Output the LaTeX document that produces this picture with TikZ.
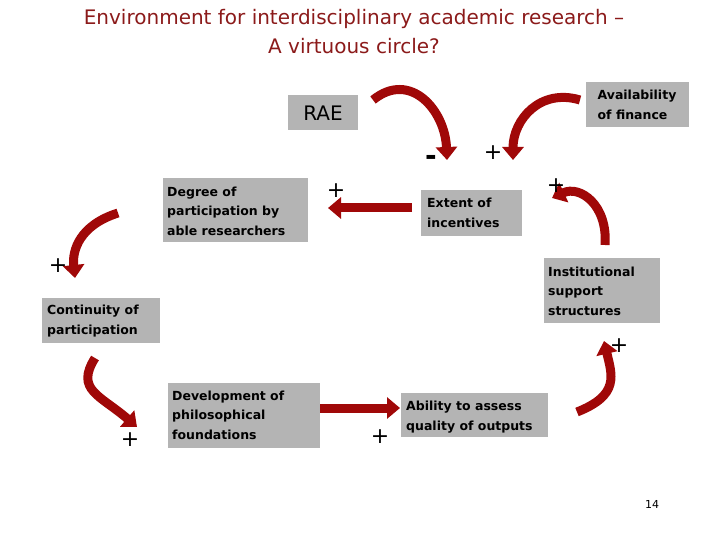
\documentclass[tikz,border=0pt]{standalone}
\usepackage{fontspec}
\setmainfont{DejaVu Sans}
\usetikzlibrary{arrows.meta}
\definecolor{ared}{HTML}{A00808}
\definecolor{tred}{HTML}{8B1A1A}
\definecolor{boxg}{HTML}{B4B4B4}
\tikzset{
  box/.style={inner sep=4pt, align=left, font=\bfseries\fontsize{12.5}{19.5}\selectfont},
  arr/.style={draw=ared, line width=9pt, -{Triangle[width=21pt,length=13pt]}},
  sgn/.style={font=\fontsize{22}{22}\selectfont}
}
\begin{document}
\begin{tikzpicture}[x=1pt,y=-1pt]
\useasboundingbox (0,0) rectangle (720,540);
\node[text=tred, font=\fontsize{20}{29}\selectfont, align=center] (title) at (354,32) {Environment for interdisciplinary academic research –\\A virtuous circle?};
% boxes
\fill[boxg] (288,95) rectangle (358,130);
\node[font=\fontsize{20}{20}\selectfont] (rae) at (323,113) {RAE};
\fill[boxg] (586,82) rectangle (689,127);
\node[box, anchor=center] (fin) at (637,105) {Availability\\of finance};
\fill[boxg] (163,178) rectangle (308,242);
\node[box, anchor=west] (deg) at (163,211) {Degree of\\participation by\\able researchers};
\fill[boxg] (421,190) rectangle (522,236);
\node[box, anchor=west] (ext) at (423,213) {Extent of\\incentives};
\fill[boxg] (544,258) rectangle (660,323);
\node[box, anchor=west] (ins) at (544,291) {Institutional\\support\\structures};
\fill[boxg] (42,298) rectangle (160,343);
\node[box, anchor=west] (con) at (43,321) {Continuity of\\participation};
\fill[boxg] (168,383) rectangle (320,448);
\node[box, anchor=west] (dev) at (168,415) {Development of\\philosophical\\foundations};
\fill[boxg] (401,393) rectangle (548,437);
\node[box, anchor=west] (abi) at (402,417) {Ability to assess\\quality of outputs};
\node[font=\fontsize{11}{11}\selectfont] (pg) at (652,504) {14};
% arrows
\coordinate (a1s) at (373,100); \coordinate (a1e) at (447,160);
\draw[arr] (a1s) .. controls (410,70) and (445,110) .. (a1e);
\coordinate (a2s) at (580,100); \coordinate (a2e) at (513,160);
\draw[arr] (a2s) .. controls (540,88) and (513,120) .. (a2e);
\coordinate (a3s) at (412,208); \coordinate (a3e) at (328,208);
\draw[arr] (a3s) -- (a3e);
\coordinate (a4s) at (605,245); \coordinate (a4e) at (552,198);
\draw[arr] (a4s) .. controls (608,205) and (580,185) .. (a4e);
\coordinate (a5s) at (118,213); \coordinate (a5e) at (75,278);
\draw[arr] (a5s) .. controls (80,225) and (72,250) .. (a5e);
\coordinate (a6s) at (95,358); \coordinate (a6e) at (137,427);
\draw[arr] (a6s) .. controls (75,390) and (100,395) .. (a6e);
\coordinate (a7s) at (320,408); \coordinate (a7e) at (400,408);
\draw[arr] (a7s) -- (a7e);
\coordinate (a8s) at (577,412); \coordinate (a8e) at (604,341);
\draw[arr] (a8s) .. controls (620,395) and (612,375) .. (a8e);
% signs
\node[font=\bfseries\fontsize{28}{28}\selectfont] (m1) at (431,160) {-};
\node[sgn] (p1) at (493,153) {+};
\node[sgn] (p2) at (336,191) {+};
\node[sgn] (p3) at (556,186) {+};
\node[sgn] (p4) at (58,266) {+};
\node[sgn] (p5) at (619,346) {+};
\node[sgn] (p6) at (130,440) {+};
\node[sgn] (p7) at (380,437) {+};
\end{tikzpicture}
\end{document}
